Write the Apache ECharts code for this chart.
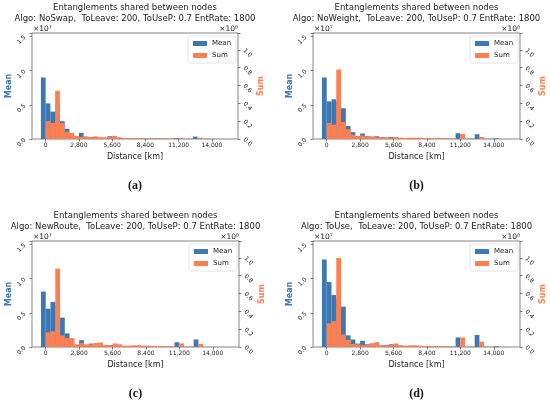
<!DOCTYPE html>
<html>
<head>
<meta charset="utf-8">
<script src="https://cdn.jsdelivr.net/npm/echarts@6/dist/echarts.min.js"></script>
<style>
  html, body { margin: 0; padding: 0; background: #fff; }
  #main { width: 550px; height: 405px; }
</style>
</head>
<body>
<div id="main"></div>
<script>
// bin positions (km); mean bar is drawn left of the position, sum bar right of it
var dist = [0, 400, 800, 1200, 1600, 2000, 2400, 2800, 3200, 3600, 4000, 4400, 4800, 5200,
    5600, 6000, 6400, 6800, 7200, 7600, 8000, 8400, 8800, 9200, 9600, 10000, 10400, 10800,
    11200, 11600, 12000, 12400, 12800, 13200, 13600, 14000, 14400, 14800, 15200];

// mean in units of 1e7, sum in units of 1e8
var meanA = [0.90, 0.52, 0.40, 0.50, 0.26, 0.15, 0.06, 0.03, 0.09, 0.03, 0.025, 0.03, 0.015, 0.02,
    0.04, 0.015, 0.01, 0.008, 0.012, 0.008, 0.006, 0.005, 0.004, 0.005, 0.006, 0.004, 0.005, 0.003,
    0.015, 0.003, 0.002, 0.003, 0.035, 0.004, 0.002, 0.001, 0.001, 0, 0];
var sumA = [0.20, 0.18, 0.54, 0.18, 0.08, 0.07, 0.035, 0.025, 0.03, 0.02, 0.03, 0.02, 0.015, 0.02,
    0.035, 0.02, 0.01, 0.008, 0.012, 0.012, 0.008, 0.006, 0.005, 0.005, 0.006, 0.005, 0.004, 0.003,
    0.012, 0.004, 0.002, 0.002, 0.014, 0.003, 0.001, 0.001, 0, 0, 0];

var meanB = [0.90, 0.55, 0.58, 0.55, 0.45, 0.19, 0.10, 0.04, 0.08, 0.04, 0.03, 0.04, 0.025, 0.02,
    0.03, 0.02, 0.015, 0.012, 0.01, 0.01, 0.008, 0.008, 0.007, 0.006, 0.006, 0.005, 0.004, 0.003,
    0.085, 0.005, 0.003, 0.005, 0.07, 0.005, 0.003, 0.002, 0.01, 0.002, 0];
var sumB = [0.18, 0.16, 0.78, 0.19, 0.11, 0.05, 0.03, 0.04, 0.03, 0.03, 0.02, 0.02, 0.02, 0.015,
    0.02, 0.015, 0.012, 0.015, 0.015, 0.015, 0.012, 0.01, 0.01, 0.008, 0.006, 0.004, 0.003, 0.003,
    0.057, 0.003, 0.002, 0.002, 0.023, 0.001, 0.001, 0.001, 0.001, 0, 0];

var meanC = [0.81, 0.56, 0.66, 0.60, 0.43, 0.20, 0.08, 0.03, 0.10, 0.03, 0.05, 0.03, 0.02, 0.02,
    0.03, 0.02, 0.015, 0.01, 0.01, 0.008, 0.006, 0.005, 0.004, 0.005, 0.004, 0.003, 0.003, 0.003,
    0.07, 0.003, 0.002, 0.004, 0.11, 0.003, 0.001, 0.001, 0.001, 0, 0];
var sumC = [0.165, 0.175, 0.88, 0.13, 0.10, 0.10, 0.03, 0.045, 0.03, 0.03, 0.045, 0.05, 0.02, 0.02,
    0.04, 0.03, 0.015, 0.015, 0.02, 0.02, 0.015, 0.015, 0.012, 0.01, 0.012, 0.01, 0.006, 0.004,
    0.04, 0.003, 0.002, 0.002, 0.035, 0.001, 0.001, 0.001, 0, 0, 0];

var meanD = [1.28, 0.95, 0.76, 0.70, 0.59, 0.17, 0.11, 0.05, 0.09, 0.04, 0.05, 0.04, 0.02, 0.03,
    0.04, 0.02, 0.02, 0.015, 0.02, 0.015, 0.01, 0.01, 0.01, 0.01, 0.01, 0.008, 0.005, 0.005,
    0.14, 0.005, 0.003, 0.003, 0.175, 0.004, 0.003, 0.002, 0.01, 0.003, 0.001];
var sumD = [0.265, 0.29, 1.0, 0.14, 0.08, 0.035, 0.03, 0.02, 0.03, 0.04, 0.055, 0.02, 0.02, 0.025,
    0.04, 0.02, 0.015, 0.015, 0.02, 0.015, 0.012, 0.01, 0.01, 0.012, 0.008, 0.006, 0.004, 0.003,
    0.107, 0.003, 0.002, 0.002, 0.06, 0.002, 0.001, 0.001, 0.001, 0, 0];

var algos = ['NoSwap', 'NoWeight', 'NewRoute', 'ToUse'];
var captions = ['(a)', '(b)', '(c)', '(d)'];
var xTicks = [0, 2800, 5600, 8400, 11200, 14000];
var meanTicks = [0, 0.5, 1.0, 1.5];
var sumTicks = [0, 0.2, 0.4, 0.6, 0.8, 1.0];

var BLUE = '#3b78b4';
var ORANGE = '#ff7f50';
var FONT = 'DejaVu Sans';
var BIN = 400;

var panels = [
    { mean: meanA, sum: sumA, left: 32, top: 33, width: 206 },
    { mean: meanB, sum: sumB, left: 313, top: 33, width: 207 },
    { mean: meanC, sum: sumC, left: 32, top: 241, width: 207 },
    { mean: meanD, sum: sumD, left: 313, top: 241, width: 207 }
];
var H = 106;

function pairs(vals) {
    return dist.map(function (d, i) { return [d, vals[i]]; });
}

// side -1: bar sits left of its position, +1: right of it
function barRender(side) {
    return function (params, api) {
        var x = api.value(0), v = api.value(1);
        var x0 = side < 0 ? x - BIN : x;
        var p0 = api.coord([x0, v]);
        var p1 = api.coord([x0 + BIN, 0]);
        return {
            type: 'rect',
            shape: { x: p0[0], y: p0[1], width: p1[0] - p0[0], height: p1[1] - p0[1] },
            style: api.style()
        };
    };
}

function yAxis(i, pos, max, step, name, color) {
    return {
        type: 'value', gridIndex: i, position: pos, min: 0, max: max, interval: step,
        name: name, nameLocation: 'middle', nameGap: 19, nameRotate: 90,
        nameTextStyle: { fontFamily: FONT, fontSize: 8, fontWeight: 'bold', color: color },
        axisLine: { show: false, onZero: false },
        splitLine: { show: false },
        axisTick: { show: true, length: 2.5, lineStyle: { color: '#444', width: 0.7 } },
        axisLabel: { show: false }
    };
}

var grids = [], xAxes = [], yAxes = [], series = [], legends = [], graphics = [];

panels.forEach(function (p, i) {
    var cx = p.left + p.width / 2;
    var right = p.left + p.width;
    grids.push({
        left: p.left, top: p.top, width: p.width, height: H,
        show: true, borderColor: '#666', borderWidth: 0.8, backgroundColor: '#fff'
    });
    xAxes.push({
        type: 'value', gridIndex: i, min: -1150, max: 16200,
        name: 'Distance [km]', nameLocation: 'middle', nameGap: 14,
        nameTextStyle: { fontFamily: FONT, fontSize: 8, color: '#222' },
        axisLine: { show: false, onZero: false },
        splitLine: { show: false },
        axisTick: { customValues: xTicks, length: 2.5, lineStyle: { color: '#444', width: 0.7 } },
        axisLabel: {
            customValues: xTicks, margin: 3, fontFamily: FONT, fontSize: 6, color: '#222',
            formatter: function (v) { return v.toLocaleString('en-US'); }
        }
    });
    yAxes.push(yAxis(i, 'left', 1.55, 0.5, 'Mean', BLUE));
    yAxes.push(yAxis(i, 'right', 1.19, 0.2, 'Sum', ORANGE));
    series.push({
        name: 'Mean', type: 'custom', xAxisIndex: i, yAxisIndex: 2 * i,
        renderItem: barRender(-1), itemStyle: { color: BLUE },
        encode: { x: 0, y: 1 }, data: pairs(p.mean)
    });
    series.push({
        name: 'Sum', type: 'custom', xAxisIndex: i, yAxisIndex: 2 * i + 1,
        renderItem: barRender(1), itemStyle: { color: ORANGE },
        encode: { x: 0, y: 1 }, data: pairs(p.sum)
    });
    legends.push({
        data: ['Mean', 'Sum'], orient: 'vertical', left: right - 50, top: p.top + 3,
        icon: 'rect', itemWidth: 14, itemHeight: 5, itemGap: 5, padding: [4, 5],
        backgroundColor: '#fff', borderColor: '#ddd', borderWidth: 0.8, borderRadius: 2,
        textStyle: { fontFamily: FONT, fontSize: 7, color: '#222' }
    });
    var lines = [
        'Entanglements shared between nodes',
        'Algo: ' + algos[i] + ',  ToLeave: 200, ToUseP: 0.7 EntRate: 1800'
    ];
    lines.forEach(function (t, j) {
        graphics.push({
            type: 'text', x: cx, y: p.top - 25 + j * 10.7,
            style: { text: t, fontFamily: FONT, fontSize: 8.5, fill: '#222',
                     textAlign: 'center', textVerticalAlign: 'middle' }
        });
    });
    graphics.push({
        type: 'text', x: p.left + 1, y: p.top - 4,
        style: { text: '×10⁷', fontFamily: FONT, fontSize: 7.5, fill: '#222',
                 textAlign: 'left', textVerticalAlign: 'middle' }
    });
    graphics.push({
        type: 'text', x: right, y: p.top - 4,
        style: { text: '×10⁸', fontFamily: FONT, fontSize: 7.5, fill: '#222',
                 textAlign: 'right', textVerticalAlign: 'middle' }
    });
    graphics.push({
        type: 'text', x: cx, y: p.top + 153,
        style: { text: captions[i], fontFamily: 'Liberation Serif', fontSize: 12, fontWeight: 'bold',
                 fill: '#111', textAlign: 'center', textVerticalAlign: 'middle' }
    });
});

var myChart = echarts.init(document.getElementById('main'));
myChart.setOption({
    animation: false,
    backgroundColor: '#fff',
    grid: grids,
    xAxis: xAxes,
    yAxis: yAxes,
    legend: legends,
    series: series,
    graphic: graphics
});

// slanted y tick labels, placed with the axes' own scales
function tickLabel(x, y, text, rot) {
    return {
        type: 'text', x: x, y: y, rotation: rot,
        style: { text: text, fontFamily: FONT, fontSize: 6, fill: '#222',
                 textAlign: 'center', textVerticalAlign: 'middle' }
    };
}
panels.forEach(function (p, i) {
    meanTicks.forEach(function (v) {
        var y = myChart.convertToPixel({ yAxisIndex: 2 * i }, v);
        graphics.push(tickLabel(p.left - 10.5, y + 3.5, v.toFixed(1), Math.PI / 4));
    });
    sumTicks.forEach(function (v) {
        var y = myChart.convertToPixel({ yAxisIndex: 2 * i + 1 }, v);
        graphics.push(tickLabel(p.left + p.width + 9.5, y + 3, v.toFixed(1), -Math.PI / 4));
    });
});
myChart.setOption({ graphic: graphics });
</script>
</body>
</html>
